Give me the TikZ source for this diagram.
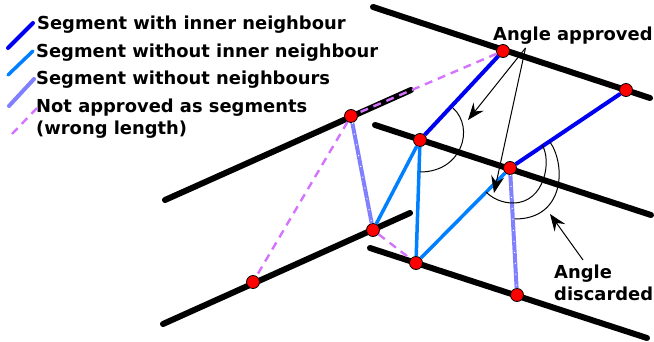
\documentclass[tikz,border=0pt]{standalone}
\usepackage{fontspec}
\setmainfont{DejaVu Sans}
\usetikzlibrary{arrows.meta,positioning}
\definecolor{segblue}{RGB}{0,0,240}
\definecolor{segcyan}{RGB}{0,128,255}
\definecolor{segpale}{RGB}{128,128,255}
\definecolor{segpurple}{RGB}{213,115,255}
\tikzstyle{wall}   = [line width=6pt, line cap=round, black]
\tikzstyle{inner}  = [line width=4pt, segblue]
\tikzstyle{outer}  = [line width=3.5pt, segcyan]
\tikzstyle{lone}   = [line width=4pt, segpale]
\tikzstyle{gaps}   = [line width=1pt, white, dash pattern=on 1pt off 10pt]
\tikzstyle{wrong}  = [line width=2.4pt, segpurple, dash pattern=on 8pt off 6pt]
\tikzstyle{pt}     = [circle, draw=black, line width=0.8pt, fill=red, inner sep=0pt, minimum size=13pt]
\tikzstyle{lbl}    = [font=\bfseries\fontsize{17.9pt}{20pt}\selectfont, inner sep=0pt, anchor=base west]
\tikzstyle{angle}  = [line width=1pt]
\tikzstyle{pointer}= [-{Stealth[length=17pt,width=13pt,inset=6pt]}, line width=1pt]
\begin{document}
\begin{tikzpicture}[x=1pt,y=-1pt]
\useasboundingbox (0,0) rectangle (654,342);
% Walls
\draw[wall] (373,7) -- (650,98);
\draw[wall] (165,200) -- (411,90);
\draw[wall] (375,125) -- (651,215);
\draw[wall] (163,324) -- (410,213);
\draw[wall] (370,248) -- (647,338);
% Points
\node[pt] (pa) at (503,51) {};
\node[pt] (pb) at (626,90) {};
\node[pt] (pc) at (351,116) {};
\node[pt] (pd) at (420,140) {};
\node[pt] (pe) at (510,168) {};
\node[pt] (pf) at (373,230) {};
\node[pt] (pg) at (416,263) {};
\node[pt] (ph) at (517,295) {};
\node[pt] (pi) at (253,282) {};
% Not approved
\draw[wrong] (pa) -- (pc);
\draw[wrong] (pc) -- (pi);
\draw[wrong] (pf) -- (pg);
% Segments
\draw[inner] (pa) -- (pd);
\draw[inner] (pb) -- (pe);
\draw[outer] (pd) -- (pf);
\draw[outer] (pd) -- (pg);
\draw[outer] (pe) -- (pg);
\draw[lone] (pc) -- (pf);
\draw[lone] (pe) -- (ph);
\draw[gaps] (pc) -- (pf);
\draw[gaps] (pe) -- (ph);
% Angles
\draw[angle] (453,108) .. controls (475,128) and (462,172) .. (420,172);
\draw[angle] (542,145) .. controls (552,160) and (545,203) .. (513,203)
  .. controls (503,203) and (493,199) .. (486,192);
\draw[angle] (550,142) .. controls (566,165) and (565,219) .. (515,219);
% Labels
\node[lbl] (seginner) at (37,29.5) {Segment with inner neighbour};
\node[lbl] (segouter) at (36,57.5) {Segment without inner neighbour};
\node[lbl] (seglone) at (36,84.5) {Segment without neighbours};
\node[lbl] (segwrong) at (36,113) {Not approved as segments};
\node[lbl] (segwhy) at (36,135) {(wrong length)};
\node[lbl] (okangle) at (493,41) {Angle approved};
\node[lbl] (badangle) at (554,278) {Angle};
\node[lbl] (badword) at (554,301) {discarded};
% Legend
\coordinate (keya) at (8,48);
\coordinate (keyb) at (33,23);
\coordinate (keyc) at (8,75);
\coordinate (keyd) at (33,51);
\coordinate (keye) at (9,106);
\coordinate (keyf) at (34,79);
\coordinate (keyg) at (12,134);
\coordinate (keyh) at (37,108);
\draw[inner, line cap=round] (keya) -- (keyb);
\draw[outer, line cap=round] (keyc) -- (keyd);
\draw[lone, line cap=round] (keye) -- (keyf);
\draw[wrong] (keyg) -- (keyh);
% Pointers
\coordinate (fromok) at (525.5,48);
\coordinate (tipa) at (468,120);
\coordinate (tipb) at (494,193);
\coordinate (frombad) at (583,260);
\coordinate (tipc) at (550,214);
\draw[pointer] (fromok) -- (tipa);
\draw[pointer] (fromok) -- (tipb);
\draw[pointer] (frombad) -- (tipc);
\end{tikzpicture}
\end{document}
